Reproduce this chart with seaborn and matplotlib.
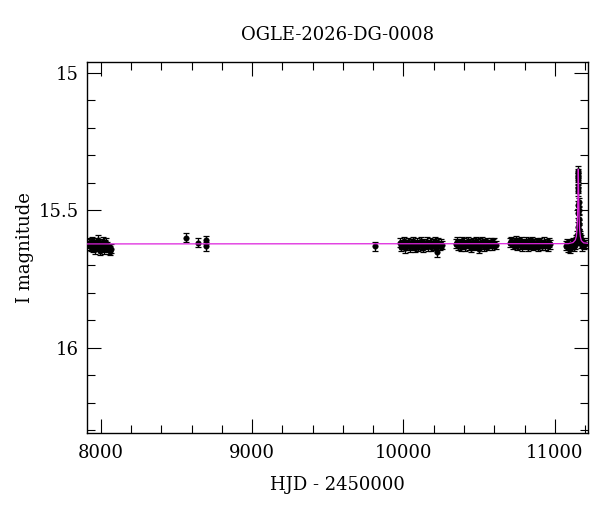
import matplotlib
matplotlib.use("Agg")
import matplotlib.pyplot as plt
import seaborn as sns
import pandas as pd
from matplotlib.ticker import MultipleLocator

# ---- data ----
title = "OGLE-2026-DG-0008"

s1_t = [7922, 7928, 7934, 7940, 7946, 7952, 7958, 7964, 7970, 7976, 7982, 7988, 7994, 8000,
        8006, 8012, 8018, 8024, 8030, 8036, 8042, 8048, 8054, 8060, 8066]
s1_m = [15.620, 15.628, 15.633, 15.612, 15.636, 15.622, 15.615, 15.641, 15.626, 15.631, 15.606,
        15.621, 15.646, 15.632, 15.619, 15.614, 15.636, 15.642, 15.624, 15.618, 15.631, 15.637,
        15.641, 15.646, 15.639]

s2_t = [8562, 8640, 8694, 8698, 9815]
s2_m = [15.600, 15.618, 15.608, 15.630, 15.630]

s3_t = [9975, 9985, 9993, 10001, 10009, 10017, 10025, 10033, 10041, 10049, 10057, 10065,
        10073, 10081, 10089, 10097, 10105, 10113, 10121, 10129, 10137, 10145, 10153, 10161,
        10169, 10177, 10185, 10193, 10201, 10209, 10217, 10222, 10230, 10238, 10246, 10254]
s3_m = [15.618, 15.632, 15.625, 15.611, 15.638, 15.622, 15.629, 15.615, 15.634, 15.620, 15.627,
        15.613, 15.636, 15.624, 15.618, 15.631, 15.623, 15.612, 15.628, 15.635, 15.619, 15.626,
        15.614, 15.630, 15.622, 15.617, 15.633, 15.621, 15.627, 15.612, 15.624, 15.652, 15.618,
        15.629, 15.621, 15.626]

s4_t = [10345, 10353, 10361, 10369, 10377, 10385, 10393, 10401, 10409, 10417, 10425, 10433,
        10441, 10449, 10457, 10465, 10473, 10481, 10489, 10497, 10505, 10513, 10521, 10529,
        10537, 10545, 10553, 10561, 10569, 10577, 10585, 10593, 10601, 10612]
s4_m = [15.621, 15.614, 15.628, 15.619, 15.633, 15.611, 15.624, 15.617, 15.630, 15.622, 15.613,
        15.627, 15.619, 15.635, 15.616, 15.624, 15.629, 15.612, 15.621, 15.640, 15.618, 15.626,
        15.614, 15.631, 15.620, 15.625, 15.617, 15.629, 15.622, 15.615, 15.627, 15.621, 15.618,
        15.626]

s5_t = [10705, 10713, 10721, 10729, 10737, 10745, 10753, 10761, 10769, 10777, 10785, 10793,
        10801, 10809, 10817, 10825, 10833, 10841, 10849, 10857, 10865, 10873, 10881, 10889,
        10897, 10905, 10913, 10921, 10929, 10937, 10945, 10953, 10961, 10970]
s5_m = [15.618, 15.611, 15.626, 15.615, 15.622, 15.609, 15.628, 15.617, 15.623, 15.612, 15.630,
        15.619, 15.625, 15.614, 15.621, 15.633, 15.616, 15.624, 15.611, 15.628, 15.619, 15.626,
        15.615, 15.632, 15.621, 15.617, 15.629, 15.622, 15.614, 15.627, 15.620, 15.631, 15.618,
        15.624]

s6_t = [11075, 11082, 11089, 11096, 11103, 11110, 11117, 11124, 11131, 11138, 11143, 11147,
        11150, 11151, 11152, 11153, 11154, 11155, 11155, 11156, 11156, 11157, 11158, 11159,
        11160, 11161, 11162, 11164, 11166, 11168, 11171, 11175, 11180, 11186, 11193, 11200]
s6_m = [15.628, 15.619, 15.636, 15.624, 15.640, 15.621, 15.615, 15.632, 15.626, 15.611, 15.605,
        15.590, 15.560, 15.510, 15.480, 15.420, 15.380, 15.355, 15.365, 15.390, 15.430, 15.470,
        15.500, 15.530, 15.550, 15.570, 15.585, 15.600, 15.590, 15.610, 15.605, 15.620, 15.630,
        15.615, 15.625, 15.622]

err_base = 0.016

model_t = [7909, 11090, 11120, 11135, 11142, 11147, 11150, 11152, 11154, 11155, 11156, 11158,
           11160, 11163, 11168, 11175, 11190, 11219]
model_m = [15.622, 15.621, 15.617, 15.608, 15.595, 15.565, 15.520, 15.455, 15.385, 15.350,
           15.385, 15.455, 15.520, 15.565, 15.595, 15.610, 15.618, 15.620]

# ---- build table ----
t_all = s1_t + s2_t + s3_t + s4_t + s5_t + s6_t
m_all = s1_m + s2_m + s3_m + s4_m + s5_m + s6_m
df = pd.DataFrame({"t": t_all, "m": m_all})
mdl = pd.DataFrame({"t": model_t, "m": model_m})

sns.set_style("ticks")
plt.rcParams['font.family'] = ['DejaVu Serif']
plt.rcParams['text.color'] = 'black'
plt.rcParams['axes.labelcolor'] = 'black'
plt.rcParams['xtick.color'] = 'black'
plt.rcParams['ytick.color'] = 'black'

fig = plt.figure(figsize=(6.0, 5.12), dpi=100)
ax = fig.add_axes([87/600, 1-433/512, (588-87)/600, (433-62)/512])

ax.errorbar(df["t"], df["m"], yerr=err_base, fmt='none', ecolor='black',
            elinewidth=0.9, capsize=2.5, capthick=0.9, zorder=2)
sns.scatterplot(data=df, x="t", y="m", ax=ax, color='black', s=16,
                edgecolor='black', linewidth=0.3, zorder=3)
sns.lineplot(data=mdl, x="t", y="m", ax=ax, color='#dd22dd', linewidth=0.9,
             zorder=4, sort=False, estimator=None)

ax.set_xlim(7909, 11219)
ax.set_ylim(16.31, 14.96)

ax.xaxis.set_major_locator(MultipleLocator(1000))
ax.xaxis.set_minor_locator(MultipleLocator(200))
ax.yaxis.set_major_locator(MultipleLocator(0.5))
ax.yaxis.set_minor_locator(MultipleLocator(0.1))
ax.set_yticks([15, 15.5, 16])
ax.set_yticklabels(["15", "15.5", "16"])

ax.tick_params(which='both', direction='in', top=True, right=True, color='black',
               width=0.8, labelsize=13, labelcolor='black')
ax.tick_params(which='major', length=10)
ax.tick_params(axis='x', which='major', pad=8)
ax.tick_params(axis='y', which='major', pad=6)
ax.tick_params(which='minor', length=6)
for sp in ax.spines.values():
    sp.set_linewidth(1.0)
    sp.set_color('black')

ax.set_xlabel("HJD - 2450000", fontsize=13, labelpad=10, color='black')
ax.set_ylabel("I magnitude", fontsize=13, labelpad=3, color='black')
ax.set_title(title, fontsize=13, pad=16, color='black')

fig.savefig("out.png", dpi=100)
